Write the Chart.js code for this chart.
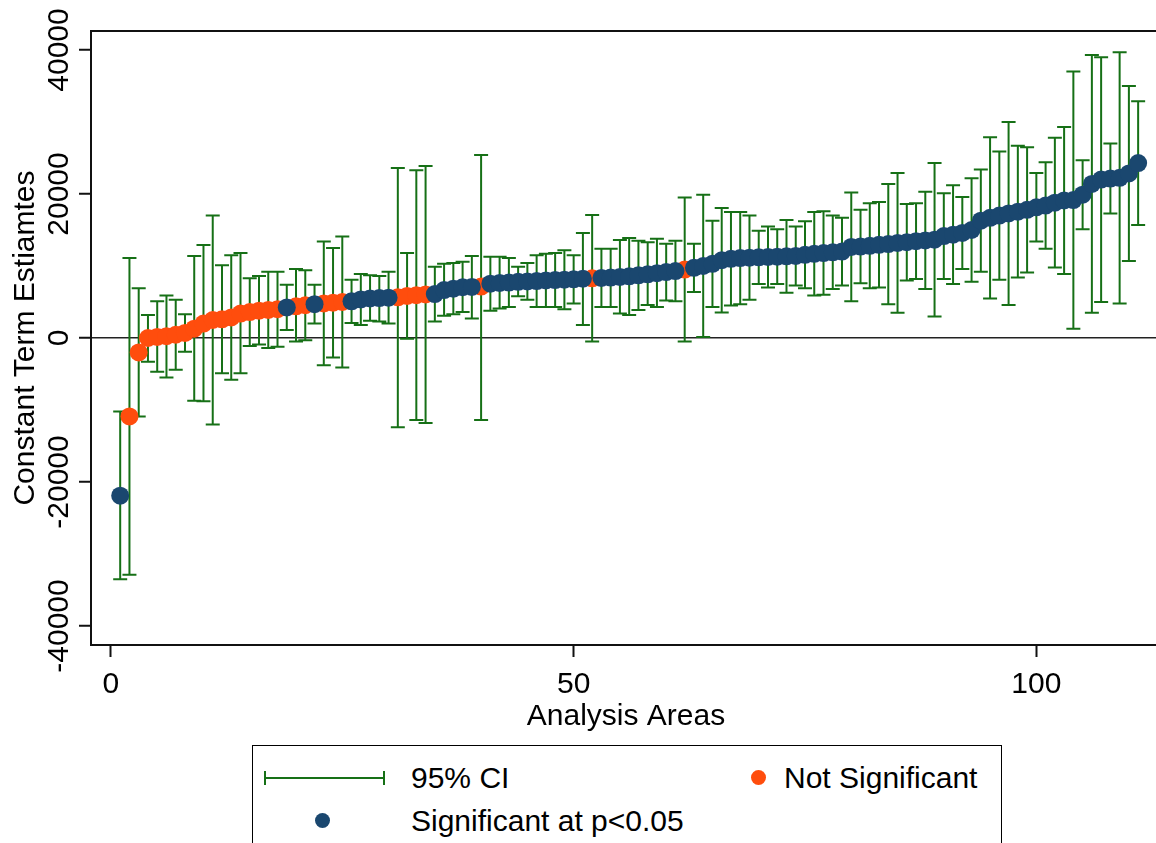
<!DOCTYPE html>
<html>
<head>
<meta charset="utf-8">
<title>Constant Term Estimates by Analysis Area</title>
<script src="https://cdn.jsdelivr.net/npm/chart.js@4.4.1/dist/chart.umd.min.js"></script>
<style>
    html, body {
        margin: 0;
        padding: 0;
        width: 1156px;
        height: 843px;
        overflow: hidden;
        background: #fff;
        font-family: 'Liberation Sans', Arial, sans-serif;
    }
    #chart-wrap {
        position: absolute;
        left: 0;
        top: 0;
        width: 1170px;
        height: 740px;
    }
    #legend {
        position: absolute;
        left: 252px;
        top: 745px;
        width: 750px;
        height: 200px;
        border: 1.5px solid #000;
        box-sizing: border-box;
    }
    #legend .lab {
        position: absolute;
        font-size: 30px;
        line-height: 30px;
        color: #000;
        white-space: nowrap;
    }
    #legend .dot {
        position: absolute;
        width: 15px;
        height: 15px;
        border-radius: 50%;
    }
    #legend .bar {
        position: absolute;
        background: #167016;
    }
</style>
</head>
<body>
<div id="chart-wrap">
    <canvas id="const-chart" width="1170" height="740"></canvas>
</div>
<div id="legend">
    <div class="bar" style="left:11px; top:31px; width:121px; height:2px;"></div>
    <div class="bar" style="left:11px; top:25px; width:2px; height:14px;"></div>
    <div class="bar" style="left:130px; top:25px; width:2px; height:14px;"></div>
    <span class="lab" style="left:158px; top:17px;">95% CI</span>
    <div class="dot" style="left:498px; top:24px; background:#ff4d0d;"></div>
    <span class="lab" style="left:531px; top:17px;">Not Significant</span>
    <div class="dot" style="left:62px; top:67px; background:#1a476f;"></div>
    <span class="lab" style="left:158px; top:60px;">Significant at p&lt;0.05</span>
</div>

<script>
// Estimates, sorted ascending (one per analysis area)
const estimates = [
    -21900, -10900, -2000, 0, 150, 250, 450, 700, 1300, 2000,
    2500, 2600, 2850, 3400, 3600, 3800, 3900, 4000, 4250, 4400,
    4550, 4700, 4800, 4900, 5000, 5100, 5350, 5500, 5550, 5600,
    5650, 5850, 5950, 6050, 6100, 6650, 6850, 7050, 7100, 7150,
    7550, 7650, 7700, 7800, 7850, 7900, 8000, 8050, 8100, 8150,
    8230, 8290, 8340, 8400, 8480, 8560, 8700, 8850, 9000, 9150,
    9300, 9500, 9750, 10000, 10300, 10800, 11000, 11100, 11150, 11200,
    11250, 11300, 11350, 11400, 11550, 11700, 11800, 11900, 12000, 12650,
    12700, 12800, 12950, 13050, 13200, 13300, 13450, 13550, 13650, 14150,
    14350, 14600, 15000, 16300, 16700, 17000, 17300, 17550, 17800, 18150,
    18400, 18800, 19100, 19150, 19900, 21400, 22000, 22150, 22250, 22850,
    24300
];

// 95% confidence interval bounds
const ciLow = [
    -33500, -32900, -10900, -3300, -4700, -5500, -4400, -1900, -8700, -8800,
    -12000, -4900, -5800, -4900, -1100, -900, -1400, -1200, 1100, -500,
    -300, 2000, -3800, -2700, -4100, 2100, 1800, 2400, 2300, 2000,
    -12400, -100, -11400, -11800, 2300, 3100, 3300, 3600, 2700, -11400,
    3800, 4100, 4300, 5800, 5300, 4300, 4300, 4300, 4000, 4800,
    1800, -500, 4300, 4300, 3400, 3200, 3900, 4600, 4300, 5200,
    5100, -500, 6400, 150, 4300, 3550, 4500, 4700, 5300, 7500,
    7000, 7500, 6300, 7300, 6900, 5900, 6000, 6800, 7300, 5100,
    7600, 6900, 7000, 4700, 3500, 8000, 8200, 6800, 3000, 8200,
    7500, 9600, 7800, 9200, 5500, 8100, 4600, 8400, 9100, 13400,
    12400, 9800, 8900, 1300, 15100, 3500, 5000, 17300, 4800, 10700,
    15700
];
const ciHigh = [
    -10200, 11100, 6900, 3200, 5100, 5900, 5300, 3300, 11400, 12900,
    17000, 10100, 11500, 11800, 8300, 8600, 9200, 9200, 7400, 9600,
    9400, 7400, 13400, 12500, 14100, 8100, 8900, 8700, 8600, 9200,
    23600, 11800, 23300, 23900, 9900, 10300, 10400, 10600, 11400, 25400,
    11300, 11300, 11100, 9900, 10400, 11500, 11700, 11800, 12200, 11500,
    14600, 17100, 12400, 12400, 13600, 13900, 13500, 13300, 13800, 13100,
    13500, 19500, 13100, 19900, 16300, 18050, 17500, 17500, 17000, 14900,
    15500, 15100, 16400, 15500, 16200, 17500, 17600, 17000, 16700, 20200,
    17800, 18700, 18900, 21400, 22900, 18600, 18700, 20300, 24300, 20100,
    21200, 19600, 22200, 23400, 27900, 25900, 30000, 26700, 26500, 22900,
    24400, 27800, 29300, 37000, 24700, 39300, 39000, 27000, 39700, 35000,
    32900
];

// 1 = significant at p<0.05, 0 = not significant
const significant = [
    1, 0, 0, 0, 0, 0, 0, 0, 0, 0,
    0, 0, 0, 0, 0, 0, 0, 0, 1, 0,
    0, 1, 0, 0, 0, 1, 1, 1, 1, 1,
    0, 0, 0, 0, 1, 1, 1, 1, 1, 0,
    1, 1, 1, 1, 1, 1, 1, 1, 1, 1,
    1, 0, 1, 1, 1, 1, 1, 1, 1, 1,
    1, 0, 1, 1, 1, 1, 1, 1, 1, 1,
    1, 1, 1, 1, 1, 1, 1, 1, 1, 1,
    1, 1, 1, 1, 1, 1, 1, 1, 1, 1,
    1, 1, 1, 1, 1, 1, 1, 1, 1, 1,
    1, 1, 1, 1, 1, 1, 1, 1, 1, 1,
    1
];

const xTicks = [0, 50, 100];
const yTicks = [-40000, -20000, 0, 20000, 40000];
const xTitle = 'Analysis Areas';
const yTitle = 'Constant Term Estiamtes';

const ciColor = '#167016';
const sigColor = '#1a476f';
const notSigColor = '#ff4d0d';
const fontSpec = "30px 'Liberation Sans', Arial, sans-serif";

// area rank on the x axis
const areas = estimates.map((_, i) => i + 1);
const sigPoints = [];
const notSigPoints = [];
areas.forEach((a, i) => {
    const pt = { x: a, y: estimates[i] };
    if (significant[i]) {
        sigPoints.push(pt);
    } else {
        notSigPoints.push(pt);
    }
});

// Error bars with caps, drawn under the markers
const ciPlugin = {
    id: 'ciBars',
    beforeDatasetsDraw(chart) {
        const { ctx } = chart;
        const xs = chart.scales.x;
        const ys = chart.scales.y;
        ctx.save();
        ctx.strokeStyle = ciColor;
        ctx.lineWidth = 2;
        ctx.beginPath();
        areas.forEach((a, i) => {
            const px = xs.getPixelForValue(a);
            const top = ys.getPixelForValue(ciHigh[i]);
            const bot = ys.getPixelForValue(ciLow[i]);
            ctx.moveTo(px, top);
            ctx.lineTo(px, bot);
            ctx.moveTo(px - 7, top);
            ctx.lineTo(px + 7, top);
            ctx.moveTo(px - 7, bot);
            ctx.lineTo(px + 7, bot);
        });
        ctx.stroke();
        ctx.restore();
    }
};

// Frame, tick labels and axis titles (Stata style, rotated y labels)
const framePlugin = {
    id: 'stataFrame',
    afterDraw(chart) {
        const { ctx, chartArea } = chart;
        const xs = chart.scales.x;
        const ys = chart.scales.y;
        ctx.save();
        ctx.strokeStyle = '#111';
        ctx.lineWidth = 2;
        ctx.strokeRect(chartArea.left, chartArea.top,
            chartArea.right - chartArea.left, chartArea.bottom - chartArea.top);

        ctx.fillStyle = '#000';
        ctx.font = fontSpec;
        ctx.textAlign = 'center';
        ctx.textBaseline = 'alphabetic';

        xTicks.forEach(v => {
            ctx.fillText(String(v), xs.getPixelForValue(v), 693);
        });
        ctx.fillText(xTitle, (chartArea.left + chartArea.right) / 2, 725);

        yTicks.forEach(v => {
            ctx.save();
            ctx.translate(68, ys.getPixelForValue(v));
            ctx.rotate(-Math.PI / 2);
            ctx.fillText(String(v), 0, 0);
            ctx.restore();
        });

        ctx.save();
        ctx.translate(34, (chartArea.top + chartArea.bottom) / 2);
        ctx.rotate(-Math.PI / 2);
        ctx.fillText(yTitle, 0, 0);
        ctx.restore();

        ctx.restore();
    }
};

window.addEventListener('load', function() {
    const ctx = document.getElementById('const-chart').getContext('2d');

    new Chart(ctx, {
        type: 'scatter',
        data: {
            datasets: [
                {
                    label: 'Significant at p<0.05',
                    data: sigPoints,
                    backgroundColor: sigColor,
                    borderWidth: 0,
                    pointRadius: 9
                },
                {
                    label: 'Not Significant',
                    data: notSigPoints,
                    backgroundColor: notSigColor,
                    borderWidth: 0,
                    pointRadius: 9
                }
            ]
        },
        options: {
            responsive: false,
            animation: false,
            events: [],
            layout: {
                padding: { top: 31, right: 6, left: 0, bottom: 0 }
            },
            plugins: {
                legend: { display: false },
                tooltip: { enabled: false }
            },
            scales: {
                x: {
                    type: 'linear',
                    min: -2.155,
                    max: 113.47,
                    afterBuildTicks: scale => {
                        scale.ticks = xTicks.map(v => ({ value: v }));
                    },
                    afterFit: scale => {
                        scale.height = 95;
                    },
                    ticks: { display: false },
                    border: { display: false },
                    grid: {
                        drawOnChartArea: false,
                        drawTicks: true,
                        tickLength: 12,
                        tickColor: '#111',
                        tickWidth: 2
                    }
                },
                y: {
                    min: -42640,
                    max: 42640,
                    afterBuildTicks: scale => {
                        scale.ticks = yTicks.map(v => ({ value: v }));
                    },
                    afterFit: scale => {
                        scale.width = 91;
                    },
                    ticks: { display: false },
                    border: { display: false },
                    grid: {
                        drawTicks: true,
                        tickLength: 12,
                        tickColor: '#111',
                        tickWidth: 2,
                        lineWidth: 1.5,
                        color: c => (c.tick && c.tick.value === 0) ? '#222' : 'rgba(0,0,0,0)'
                    }
                }
            }
        },
        plugins: [ciPlugin, framePlugin]
    });
});
</script>
</body>
</html>
